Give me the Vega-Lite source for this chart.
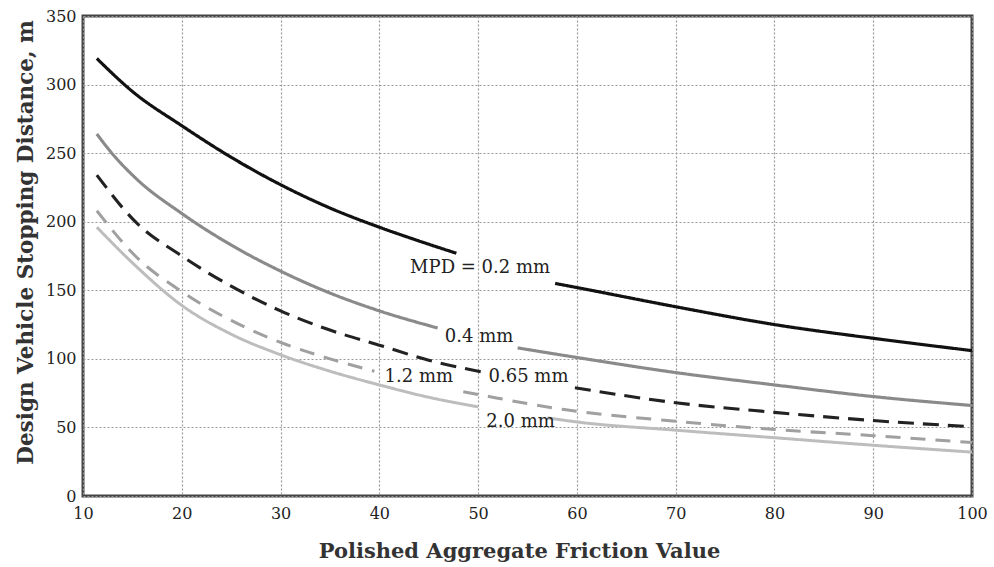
{
  "$schema": "https://vega.github.io/schema/vega-lite/v6.json",
  "autosize": {"type": "none"},
  "width": 889,
  "height": 480,
  "padding": {"left": 83, "top": 16, "right": 22, "bottom": 71},
  "background": "white",
  "config": {
    "view": {"stroke": "#444", "strokeWidth": 3},
    "axis": {
      "grid": true,
      "gridColor": "#999",
      "gridDash": [2, 2],
      "gridWidth": 1.2,
      "domain": false,
      "ticks": false,
      "labelFlush": false,
      "labelFont": "DejaVu Serif",
      "labelFontSize": 16,
      "labelColor": "#222",
      "titleFont": "DejaVu Serif",
      "titleFontWeight": "bold",
      "titleColor": "#333"
    }
  },
  "datasets": {
    "curves": [
      {"s": "0.2", "g": "a", "x": 11.4, "y": 319},
      {"s": "0.2", "g": "a", "x": 15, "y": 295},
      {"s": "0.2", "g": "a", "x": 20, "y": 270},
      {"s": "0.2", "g": "a", "x": 25, "y": 247},
      {"s": "0.2", "g": "a", "x": 30, "y": 227},
      {"s": "0.2", "g": "a", "x": 35, "y": 210},
      {"s": "0.2", "g": "a", "x": 40, "y": 196},
      {"s": "0.2", "g": "a", "x": 44, "y": 186},
      {"s": "0.2", "g": "a", "x": 47.8, "y": 177},
      {"s": "0.2", "g": "b", "x": 57.8, "y": 155},
      {"s": "0.2", "g": "b", "x": 60, "y": 152},
      {"s": "0.2", "g": "b", "x": 70, "y": 138},
      {"s": "0.2", "g": "b", "x": 80, "y": 125},
      {"s": "0.2", "g": "b", "x": 90, "y": 115},
      {"s": "0.2", "g": "b", "x": 100, "y": 106},
      {"s": "0.4", "g": "a", "x": 11.4, "y": 264},
      {"s": "0.4", "g": "a", "x": 12.8, "y": 251},
      {"s": "0.4", "g": "a", "x": 15.3, "y": 232},
      {"s": "0.4", "g": "a", "x": 20, "y": 206},
      {"s": "0.4", "g": "a", "x": 25, "y": 183},
      {"s": "0.4", "g": "a", "x": 30, "y": 164},
      {"s": "0.4", "g": "a", "x": 35, "y": 148},
      {"s": "0.4", "g": "a", "x": 40, "y": 135},
      {"s": "0.4", "g": "a", "x": 45.9, "y": 122.5},
      {"s": "0.4", "g": "b", "x": 54, "y": 108},
      {"s": "0.4", "g": "b", "x": 60, "y": 101},
      {"s": "0.4", "g": "b", "x": 70, "y": 90},
      {"s": "0.4", "g": "b", "x": 80, "y": 81},
      {"s": "0.4", "g": "b", "x": 90, "y": 72.5},
      {"s": "0.4", "g": "b", "x": 100, "y": 66},
      {"s": "0.65", "g": "a", "x": 11.4, "y": 234},
      {"s": "0.65", "g": "a", "x": 15.3, "y": 200},
      {"s": "0.65", "g": "a", "x": 20, "y": 175},
      {"s": "0.65", "g": "a", "x": 25, "y": 153},
      {"s": "0.65", "g": "a", "x": 30, "y": 135},
      {"s": "0.65", "g": "a", "x": 35, "y": 121},
      {"s": "0.65", "g": "a", "x": 40, "y": 110},
      {"s": "0.65", "g": "a", "x": 45, "y": 99},
      {"s": "0.65", "g": "a", "x": 50.7, "y": 90},
      {"s": "0.65", "g": "b", "x": 59.8, "y": 79},
      {"s": "0.65", "g": "b", "x": 70, "y": 68},
      {"s": "0.65", "g": "b", "x": 80, "y": 61},
      {"s": "0.65", "g": "b", "x": 90, "y": 55},
      {"s": "0.65", "g": "b", "x": 100, "y": 50.5},
      {"s": "1.2", "g": "a", "x": 11.4, "y": 208},
      {"s": "1.2", "g": "a", "x": 15.3, "y": 175},
      {"s": "1.2", "g": "a", "x": 20, "y": 149},
      {"s": "1.2", "g": "a", "x": 25, "y": 128},
      {"s": "1.2", "g": "a", "x": 30, "y": 112},
      {"s": "1.2", "g": "a", "x": 35, "y": 100},
      {"s": "1.2", "g": "a", "x": 39.5, "y": 91},
      {"s": "1.2", "g": "b", "x": 48.5, "y": 76},
      {"s": "1.2", "g": "b", "x": 50, "y": 74},
      {"s": "1.2", "g": "b", "x": 58.7, "y": 63},
      {"s": "1.2", "g": "b", "x": 70, "y": 54.5},
      {"s": "1.2", "g": "b", "x": 80, "y": 48.5},
      {"s": "1.2", "g": "b", "x": 90, "y": 44},
      {"s": "1.2", "g": "b", "x": 100, "y": 39},
      {"s": "2.0", "g": "a", "x": 11.4, "y": 196},
      {"s": "2.0", "g": "a", "x": 15.3, "y": 168},
      {"s": "2.0", "g": "a", "x": 20, "y": 139},
      {"s": "2.0", "g": "a", "x": 25, "y": 118},
      {"s": "2.0", "g": "a", "x": 30, "y": 103},
      {"s": "2.0", "g": "a", "x": 35, "y": 91},
      {"s": "2.0", "g": "a", "x": 40, "y": 81},
      {"s": "2.0", "g": "a", "x": 45, "y": 72},
      {"s": "2.0", "g": "a", "x": 50, "y": 65},
      {"s": "2.0", "g": "b", "x": 57, "y": 57},
      {"s": "2.0", "g": "b", "x": 60, "y": 54},
      {"s": "2.0", "g": "b", "x": 70, "y": 48},
      {"s": "2.0", "g": "b", "x": 80, "y": 42.5},
      {"s": "2.0", "g": "b", "x": 90, "y": 37},
      {"s": "2.0", "g": "b", "x": 100, "y": 32}
    ],
    "labels": [
      {"x": 50.2, "y": 166, "t": "MPD = 0.2 mm"},
      {"x": 50.1, "y": 116, "t": "0.4 mm"},
      {"x": 55.1, "y": 86.5, "t": "0.65 mm"},
      {"x": 44.0, "y": 86.5, "t": "1.2 mm"},
      {"x": 54.3, "y": 54, "t": "2.0 mm"}
    ]
  },
  "layer": [
    {
      "data": {"name": "curves"},
      "mark": {"type": "line", "interpolate": "monotone", "strokeCap": "butt"},
      "encoding": {
        "x": {
          "field": "x", "type": "quantitative",
          "scale": {"domain": [10, 100], "nice": false, "zero": false},
          "axis": {"values": [10, 20, 30, 40, 50, 60, 70, 80, 90, 100], "labelPadding": 9, "title": "Polished Aggregate Friction Value", "titleFontSize": 21, "titlePadding": 19, "titleX": 436}
        },
        "y": {
          "field": "y", "type": "quantitative",
          "scale": {"domain": [0, 350], "nice": false},
          "axis": {"values": [0, 50, 100, 150, 200, 250, 300, 350], "labelPadding": 7, "title": "Design Vehicle Stopping Distance, m", "titleFontSize": 21.5, "titlePadding": 8, "titleY": 226}
        },
        "detail": {"field": "g"},
        "color": {"field": "s", "type": "nominal", "legend": null,
          "scale": {"domain": ["0.2", "0.4", "0.65", "1.2", "2.0"], "range": ["#111111", "#8a8a8a", "#222222", "#a0a0a0", "#bdbdbd"]}},
        "strokeDash": {"field": "s", "type": "nominal", "legend": null,
          "scale": {"domain": ["0.2", "0.4", "0.65", "1.2", "2.0"], "range": [[1, 0], [1, 0], [16, 9], [15, 10], [1, 0]]}},
        "strokeWidth": {"field": "s", "type": "nominal", "legend": null,
          "scale": {"domain": ["0.2", "0.4", "0.65", "1.2", "2.0"], "range": [3.2, 3, 2.2, 2, 1.4]}}
      }
    },
    {
      "data": {"name": "labels"},
      "mark": {"type": "text", "font": "DejaVu Serif", "fontSize": 18, "color": "#222", "align": "center", "baseline": "middle"},
      "encoding": {
        "x": {"field": "x", "type": "quantitative"},
        "y": {"field": "y", "type": "quantitative"},
        "text": {"field": "t"}
      }
    }
  ]
}
